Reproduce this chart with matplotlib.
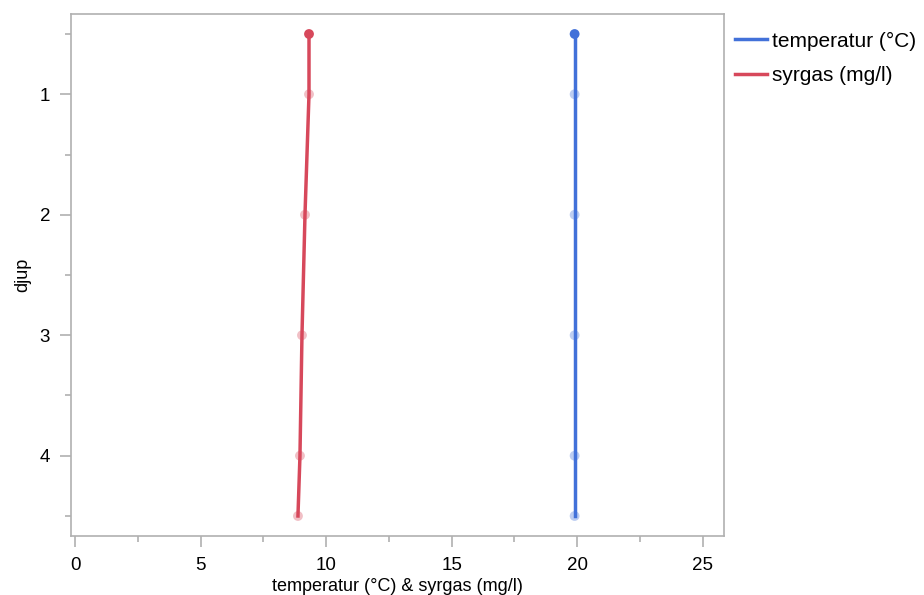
import matplotlib.pyplot as plt
from matplotlib.ticker import MultipleLocator

plt.rcParams['font.family'] = ['Liberation Sans', 'DejaVu Sans']

djup = [0.5, 1, 2, 3, 4, 4.5]
temperatur = [19.9, 19.9, 19.9, 19.9, 19.9, 19.9]
syrgas = [9.32, 9.32, 9.16, 9.04, 8.96, 8.88]

blue = '#4271d9'
red = '#d7485b'
grey = '#b0b0b0'

fig = plt.figure(figsize=(9.24, 5.95), dpi=100)
ax = fig.add_axes([71 / 924, 1 - 536 / 595, (724 - 71) / 924, (536 - 14) / 595])

for x, c, lab in [(temperatur, blue, 'temperatur (°C)'), (syrgas, red, 'syrgas (mg/l)')]:
    ax.plot(x, djup, color=c, lw=2.5, label=lab, zorder=2)
    ax.scatter(x[1:], djup[1:], s=50, color=c, alpha=0.35, edgecolors='none', zorder=3)
    ax.scatter(x[:1], djup[:1], s=50, color=c, edgecolors='none', zorder=3)

ax.set_xlim(-0.16, 25.85)
ax.set_ylim(4.666, 0.334)
ax.xaxis.set_major_locator(MultipleLocator(5))
ax.xaxis.set_minor_locator(MultipleLocator(2.5))
ax.yaxis.set_major_locator(MultipleLocator(1))
ax.yaxis.set_minor_locator(MultipleLocator(0.5))
ax.tick_params(which='both', color=grey, direction='out', labelsize=13.5, width=1.2)
ax.tick_params(which='major', length=8, pad=7)
ax.tick_params(which='minor', length=4)
for s in ax.spines.values():
    s.set_color(grey)
    s.set_linewidth(1.2)

ax.set_xlabel('temperatur (°C) & syrgas (mg/l)', fontsize=13, labelpad=3)
ax.set_ylabel('djup', fontsize=13, labelpad=6)

ax.legend(loc='upper left', bbox_to_anchor=(0.99, 1.0), frameon=False, fontsize=15,
          handlelength=1.55, handletextpad=0.2, labelspacing=0.75, borderaxespad=0.5,
          borderpad=0.35)

fig.savefig('out.png', dpi=100)
